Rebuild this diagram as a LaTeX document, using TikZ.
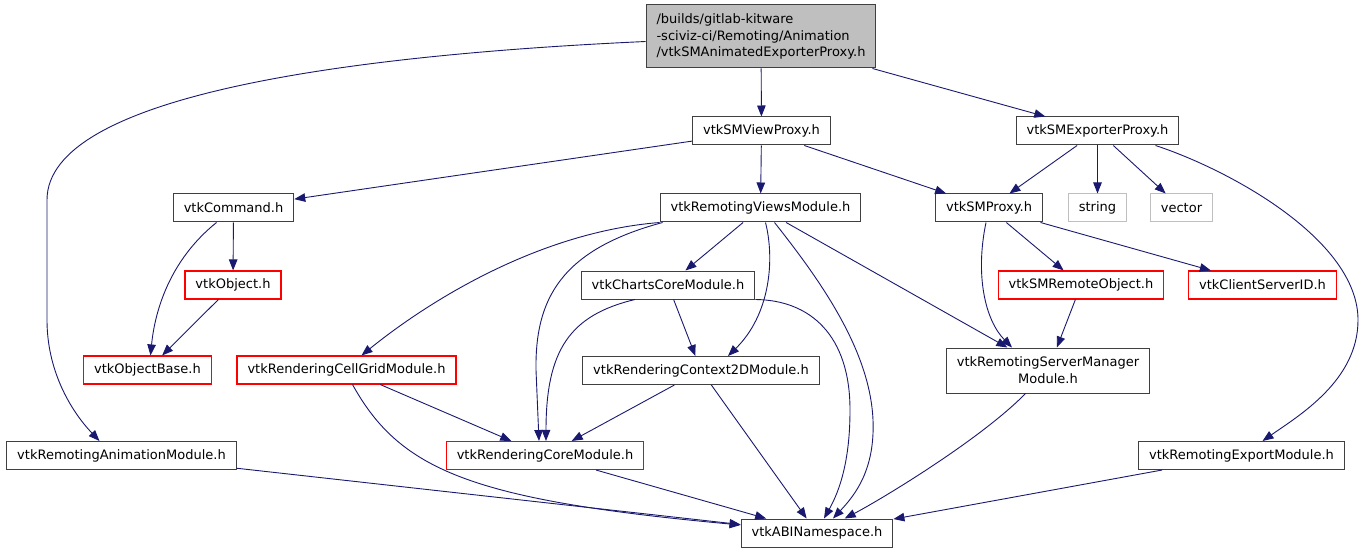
\documentclass[tikz,border=0pt]{standalone}
\usepackage{fontspec}
\setmainfont{DejaVu Sans}
\usepackage{xcolor}
\usepackage{tikz}
\usetikzlibrary{arrows.meta}

\definecolor{edgeblue}{HTML}{191970}
\definecolor{sysgray}{HTML}{BFBFBF}
\definecolor{missred}{HTML}{FF0000}

\begin{document}
\begin{tikzpicture}[x=1pt, y=-1pt,
  file/.style={rectangle, draw=black!75, line width=1pt, fill=white,
               minimum height=28pt, inner xsep=10.5pt, inner ysep=0pt,
               font=\fontsize{13}{16.7}\selectfont},
  redfile/.style={file, draw=missred, line width=1.1pt},
  sysfile/.style={file, draw=sysgray},
  topfile/.style={file, fill=sysgray, align=left, minimum height=63pt},
  dep/.style={-{Triangle[length=11pt,width=8.5pt]}, edgeblue, line width=0.9pt}
]
\useasboundingbox (0,0) rectangle (1364,553);

\node[topfile] (top) at (761,36.5)
  {/builds/gitlab-kitware\\-sciviz-ci/Remoting/Animation\\/vtkSMAnimatedExporterProxy.h};
\node[file]    (view)   at (761.5,131)  {vtkSMViewProxy.h};
\node[file]    (exp)    at (1097.5,131) {vtkSMExporterProxy.h};
\node[file]    (cmd)    at (233.5,208)  {vtkCommand.h};
\node[file]    (rviews) at (760.5,208)  {vtkRemotingViewsModule.h};
\node[file]    (smp)    at (989,208)    {vtkSMProxy.h};
\node[sysfile] (str)    at (1097.5,208) {string};
\node[sysfile] (vec)    at (1181.5,208) {vector};
\node[redfile] (vobj)   at (233,285)    {vtkObject.h};
\node[file]    (charts) at (668,285)    {vtkChartsCoreModule.h};
\node[redfile] (sro)    at (1081,285)   {vtkSMRemoteObject.h};
\node[redfile] (csid)   at (1262.5,285) {vtkClientServerID.h};
\node[redfile] (objb)   at (147.5,370)  {vtkObjectBase.h};
\node[redfile] (cgrid)  at (346.5,370)  {vtkRenderingCellGridModule.h};
\node[file]    (ctx)    at (701,370.5)  {vtkRenderingContext2DModule.h};
\node[file, align=center, minimum height=45pt] (smm) at (1048,370.5)
  {vtkRemotingServerManager\\Module.h};
\node[file]    (anim)   at (121.5,455.5) {vtkRemotingAnimationModule.h};
\node[redfile] (rcore)  at (545,455.5)   {vtkRenderingCoreModule.h};
\node[file]    (expm)   at (1241.5,455.5) {vtkRemotingExportModule.h};
\node[file]    (abi)    at (817,533)     {vtkABINamespace.h};

% header includes
\draw[dep] (top) -- (view);
\draw[dep] ([xshift=-4pt]top.south east) -- (exp);
\draw[dep] ([yshift=-5pt]top.west) .. controls (350,55) and (47,95) .. (47,200)
  -- (47,320) .. controls (47,370) and (70,410) .. ([xshift=-22pt]anim.north);

\draw[dep] (view) -- (cmd);
\draw[dep] (view) -- (rviews);
\draw[dep] (view) -- (smp);

\draw[dep] (exp) -- (smp);
\draw[dep] (exp) -- (str);
\draw[dep] (exp) -- (vec);
\draw[dep] ([xshift=58pt]exp.south) .. controls (1230,170) and (1358,240) .. (1358,320)
  .. controls (1358,380) and (1300,415) .. ([xshift=21pt]expm.north);

\draw[dep] (cmd) -- (vobj);
\draw[dep] ([xshift=-17pt]cmd.south) .. controls (170,260) and (155,310) .. ([xshift=3pt]objb.north);
\draw[dep] (vobj) -- (objb);

\draw[dep] (rviews) -- (charts);
\draw[dep] (rviews) -- (smm);
\draw[dep] (rviews.south west) .. controls (540,232) and (430,300) .. ([xshift=15pt]cgrid.north);
\draw[dep] ([xshift=3pt]rviews.south west) .. controls (560,250) and (535,300) .. (536,370)
  -- ([xshift=-6pt]rcore.north);
\draw[dep] ([xshift=5pt]rviews.south) .. controls (775,260) and (770,315) .. ([xshift=27pt]ctx.north);
\draw[dep] ([xshift=14pt]rviews.south) .. controls (820,280) and (870,350) .. (873,420)
  .. controls (875,470) and (855,495) .. ([xshift=16pt]abi.north);

\draw[dep] (charts) -- (ctx);
\draw[dep] ([xshift=-33pt]charts.south) .. controls (570,315) and (546,350) .. ([xshift=1pt]rcore.north);
\draw[dep] (charts.south east) .. controls (810,300) and (850,335) .. (850,410)
  .. controls (850,460) and (840,490) .. ([xshift=7pt]abi.north);

\draw[dep] (smp) -- (sro);
\draw[dep] (smp) -- (csid);
\draw[dep] ([xshift=-3pt]smp.south) .. controls (975,275) and (985,320) .. ([xshift=-36pt]smm.north);
\draw[dep] (sro) -- (smm);

\draw[dep] (ctx) -- (rcore);
\draw[dep] (ctx) -- (abi);
\draw[dep] (cgrid) -- (rcore);
\draw[dep] ([xshift=6pt]cgrid.south) .. controls (400,470) and (470,500) .. ([yshift=8pt]abi.west);
\draw[dep] (smm) .. controls (980,440) and (880,500) .. (abi);

\draw[dep] (anim) -- (abi);
\draw[dep] (rcore) -- (abi);
\draw[dep] (expm) -- (abi);
\end{tikzpicture}
\end{document}
